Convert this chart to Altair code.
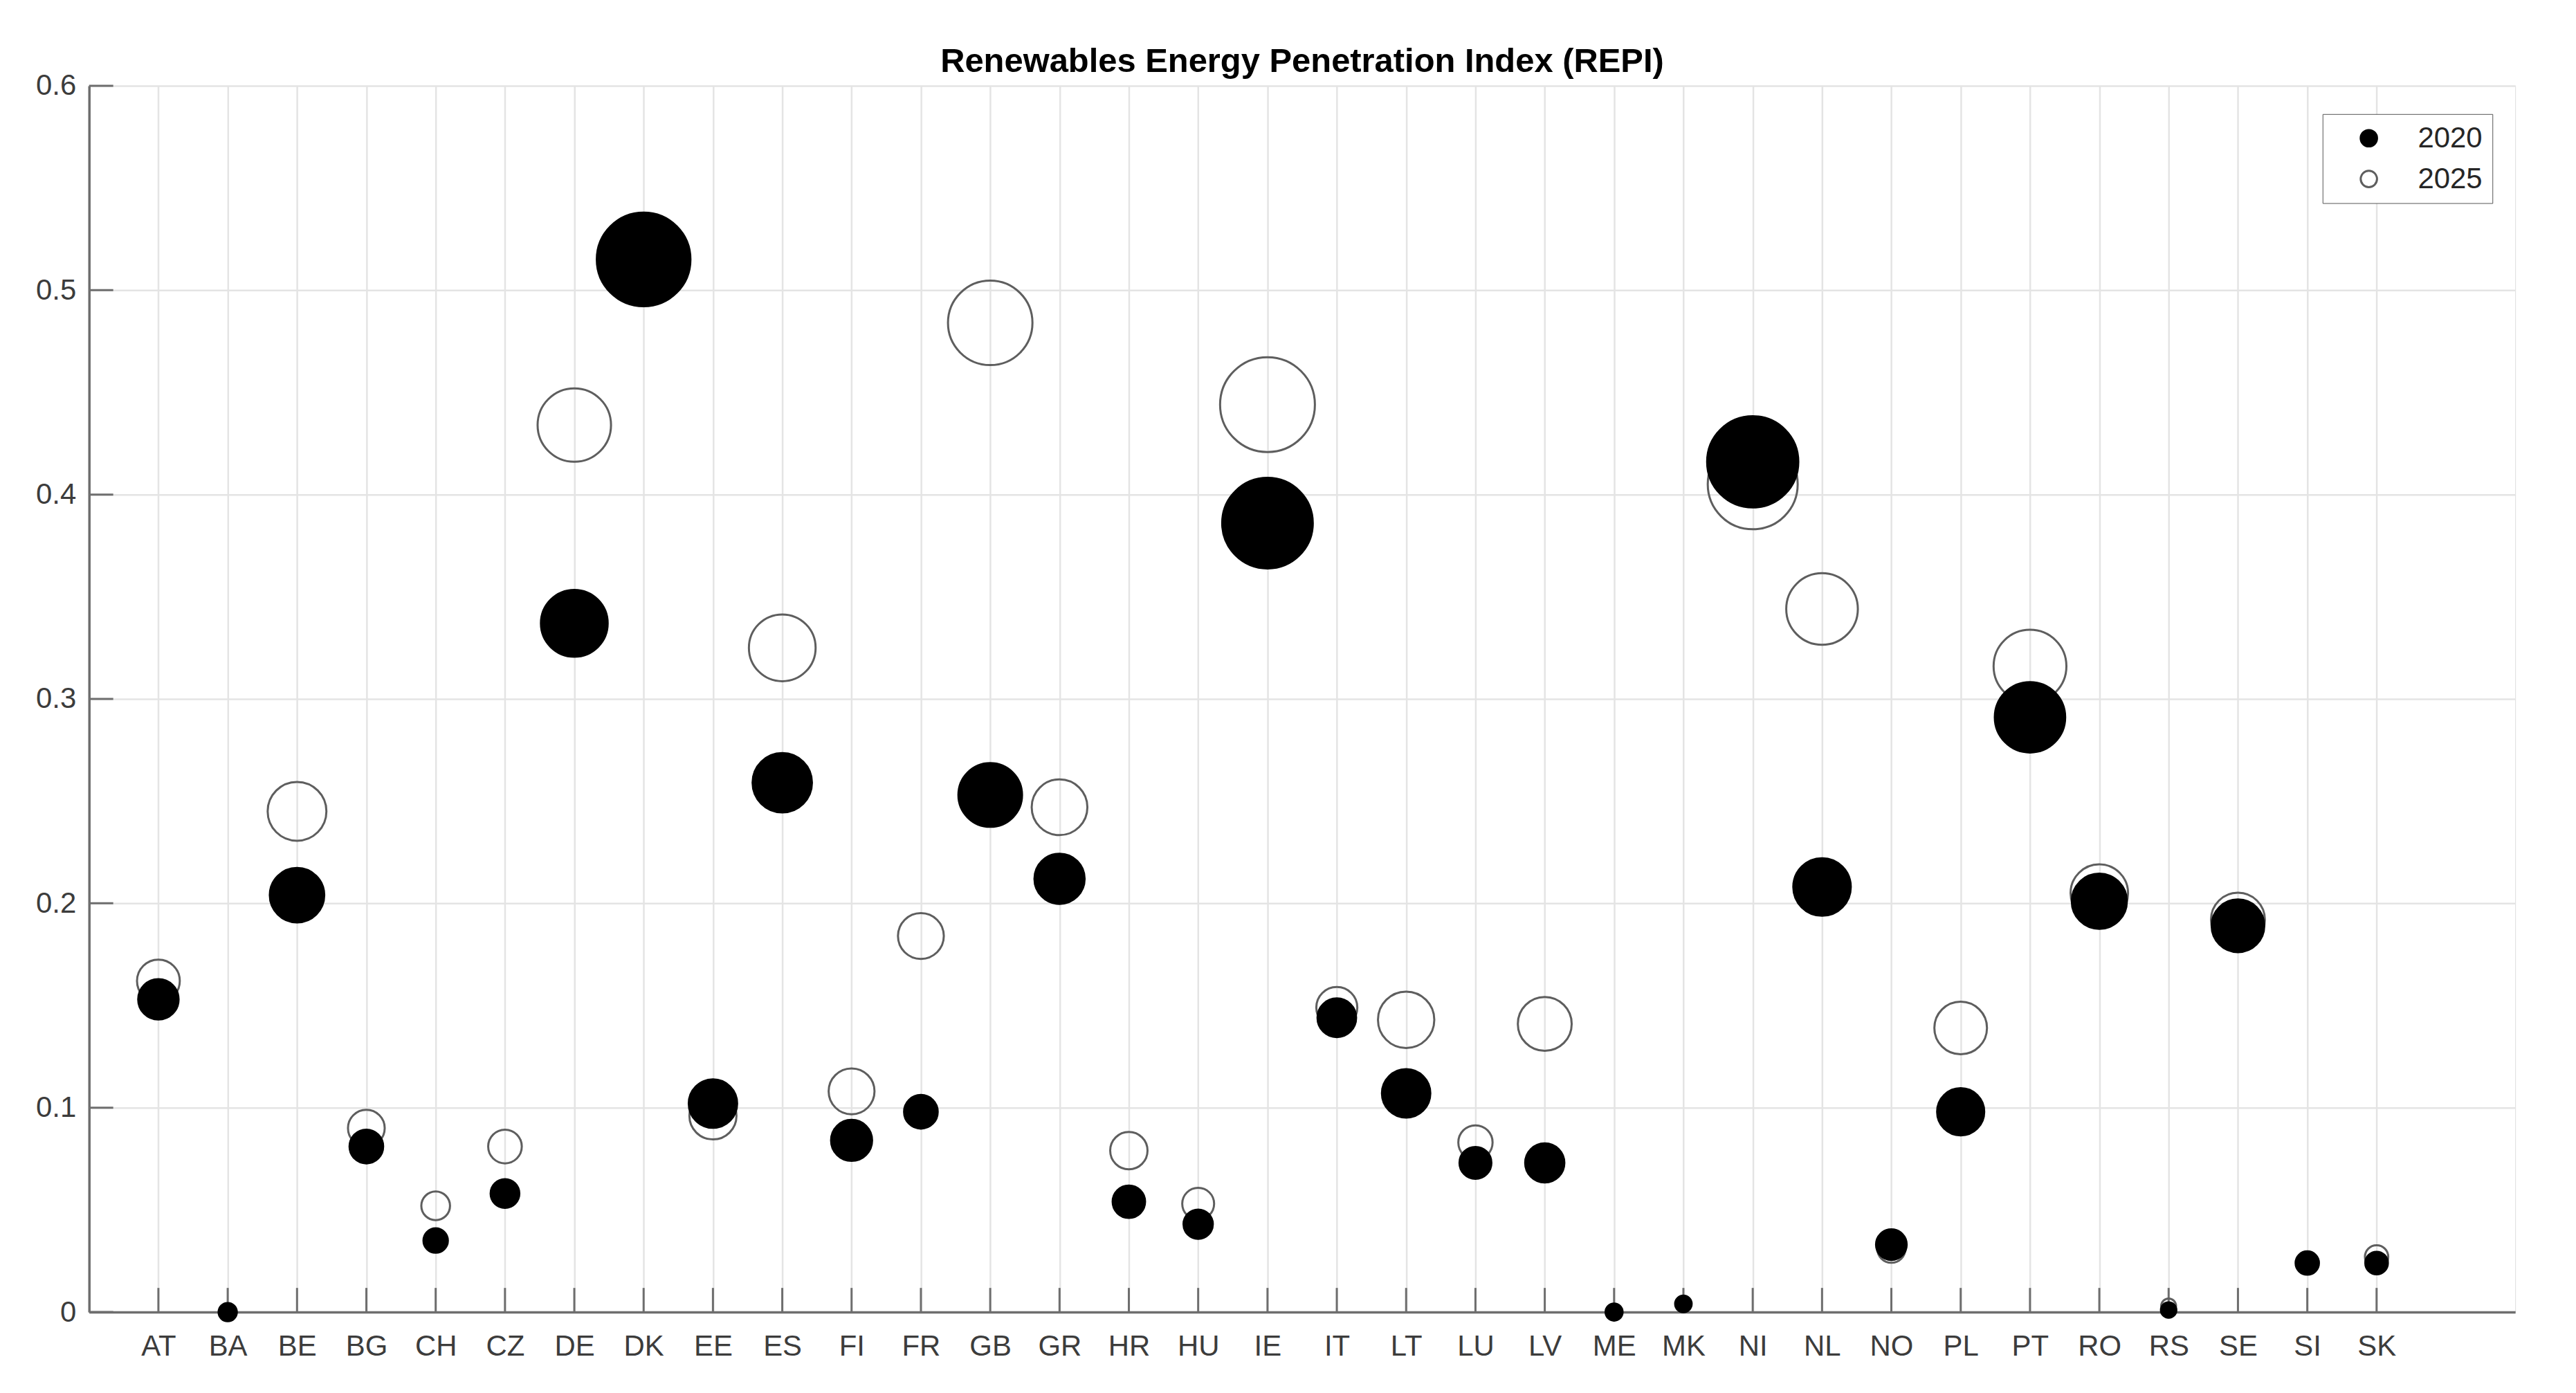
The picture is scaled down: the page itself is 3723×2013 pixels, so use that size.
import altair as alt
import pandas as pd

countries = ["AT", "BA", "BE", "BG", "CH", "CZ", "DE", "DK", "EE", "ES", "FI", "FR",
             "GB", "GR", "HR", "HU", "IE", "IT", "LT", "LU", "LV", "ME", "MK", "NI",
             "NL", "NO", "PL", "PT", "RO", "RS", "SE", "SI", "SK"]

repi_2020 = [0.153, 0.0, 0.204, 0.081, 0.035, 0.058, 0.337, 0.515, 0.102, 0.259, 0.084, 0.098,
             0.253, 0.212, 0.054, 0.043, 0.386, 0.144, 0.107, 0.073, 0.073, 0.0, 0.004, 0.416,
             0.208, 0.033, 0.098, 0.291, 0.201, 0.001, 0.189, 0.024, 0.024]
repi_2025 = [0.162, None, 0.245, 0.090, 0.052, 0.081, 0.434, None, 0.096, 0.325, 0.108, 0.184,
             0.484, 0.247, 0.079, 0.053, 0.444, 0.149, 0.143, 0.083, 0.141, None, None, 0.405,
             0.344, 0.031, 0.139, 0.316, 0.205, 0.003, 0.192, None, 0.027]

# relative bubble weight (area, DK 2020 = 1)
weight_2020 = [0.186, 0.038, 0.338, 0.129, 0.068, 0.094, 0.508, 1.0, 0.267, 0.402, 0.192, 0.129,
               0.462, 0.287, 0.120, 0.098, 0.936, 0.170, 0.267, 0.116, 0.175, 0.033, 0.031, 0.948,
               0.377, 0.107, 0.253, 0.565, 0.346, 0.027, 0.316, 0.062, 0.058]
weight_2025 = [0.209, None, 0.394, 0.154, 0.094, 0.129, 0.615, None, 0.253, 0.508, 0.240, 0.240,
               0.814, 0.354, 0.159, 0.116, 1.026, 0.192, 0.362, 0.134, 0.331, None, None, 0.923,
               0.585, 0.090, 0.316, 0.605, 0.377, 0.025, 0.331, None, 0.062]

years = ["2020", "2025"]
y_ticks = [0.0, 0.1, 0.2, 0.3, 0.4, 0.5, 0.6]

rows = []
for yr, vals, wts in [("2025", repi_2025, weight_2025), ("2020", repi_2020, weight_2020)]:
    for i, (c, v, w) in enumerate(zip(countries, vals, wts)):
        if v is None:
            continue
        rows.append({"country": c, "idx": i + 1, "year": yr, "repi": v, "weight": w})
df = pd.DataFrame(rows)

W, H = 3514, 1776
FONT = "Liberation Sans"
AXC = "#6e6e6e"
GRID = "#e4e4e4"

x_scale = alt.Scale(domain=[0, len(countries) + 2], nice=False, zero=False)
y_scale = alt.Scale(domain=[0, 0.6], nice=False)

label_expr = "[" + ",".join(f"'{c}'" for c in countries) + "][datum.value - 1]"

x_axis = alt.Axis(values=list(range(1, len(countries) + 1)), labelExpr=label_expr, title=None,
                  grid=True, gridColor=GRID, gridWidth=2.5, tickSize=0,
                  domainColor=AXC, domainWidth=3.5, labelFont=FONT, labelFontSize=42,
                  labelColor="#3c3c3c", labelPadding=30, labelOverlap=False, labelFlush=False)
y_axis = alt.Axis(values=y_ticks, labelExpr="datum.value == 0 ? '0' : format(datum.value, '.1f')",
                  title=None, grid=True, gridColor=GRID, gridWidth=2.5, tickSize=0,
                  domainColor=AXC, domainWidth=3.5, labelFont=FONT, labelFontSize=42,
                  labelColor="#3c3c3c", labelPadding=19, labelOverlap=False, labelFlush=False)

legend = alt.Legend(orient="none", legendX=3235, legendY=41, title=None,
                    labelFont=FONT, labelFontSize=42, labelColor="#262626",
                    symbolSize=560, symbolStrokeWidth=3, symbolType="circle",
                    padding=14, symbolOffset=32, labelOffset=50, rowPadding=17,
                    strokeColor="#555555", fillColor="#ffffff")

tick_df = pd.DataFrame({"idx": list(range(1, len(countries) + 1))})
xt = alt.Chart(tick_df).mark_rule(color=AXC, strokeWidth=3).encode(
    x=alt.X("idx:Q", scale=x_scale, axis=x_axis),
    y=alt.value(H - 35), y2=alt.value(H))

yt = alt.Chart(pd.DataFrame({"t": y_ticks})).mark_rule(color=AXC, strokeWidth=3).encode(
    y=alt.Y("t:Q", scale=y_scale, axis=y_axis),
    x=alt.value(0), x2=alt.value(35))

pts = alt.Chart(df).mark_point(filled=True, opacity=1, strokeWidth=3, shape="circle").encode(
    x=alt.X("idx:Q", scale=x_scale, axis=x_axis),
    y=alt.Y("repi:Q", scale=y_scale, axis=y_axis),
    size=alt.Size("weight:Q", scale=alt.Scale(domain=[0, 1], range=[0, 18385]), legend=None),
    fill=alt.Fill("year:N", scale=alt.Scale(domain=years, range=["#000000", "transparent"]), legend=legend),
    stroke=alt.Stroke("year:N", scale=alt.Scale(domain=years, range=["#000000", "#5e5e5e"]), legend=legend),
)

chart = alt.layer(xt, yt, pts).properties(
    width=W, height=H,
    autosize="none",
    padding={"left": 121, "top": 114, "right": 80, "bottom": 115},
    title=alt.Title("Renewables Energy Penetration Index (REPI)", font=FONT, fontSize=49,
                    fontWeight="bold", color="#000000", anchor="middle", frame="group",
                    offset=14, baseline="alphabetic", dy=64),
).configure_view(stroke=None).configure(background="#ffffff")

chart.save("out.html", embed_options={"renderer": "svg", "actions": False})
